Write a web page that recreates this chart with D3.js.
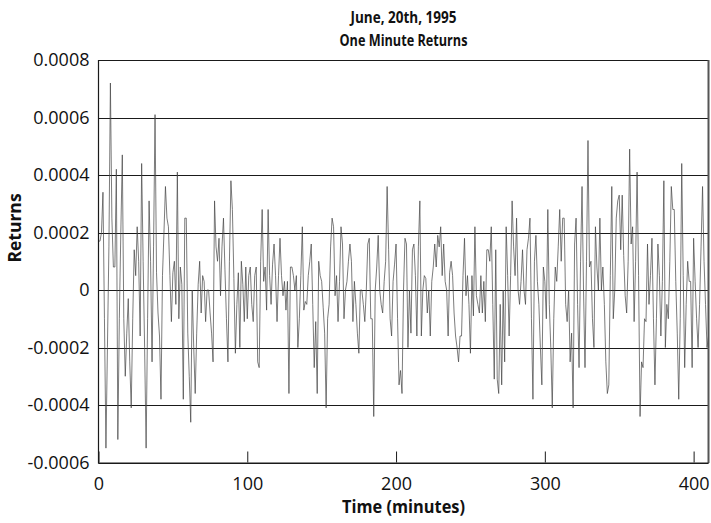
<!DOCTYPE html>
<html>
<head>
<meta charset="utf-8">
<script src="https://cdn.jsdelivr.net/npm/d3@7"></script>
<style>
  html, body { margin: 0; padding: 0; background: #fff; }
  svg { display: block; }
  text { font-family: "Open Sans", "Noto Sans", sans-serif; fill: #111; }
</style>
</head>
<body>
<svg id="chart" width="711" height="523"></svg>
<script>
// ---- data (one-minute returns, in basis points: 1 bp = 0.0001) ----
const titleLines = ["June, 20th, 1995", "One Minute Returns"];
const xLabel = "Time (minutes)";
const yLabel = "Returns";
const xTicks = [0, 100, 200, 300, 400];
const yTicks = [-0.0006, -0.0004, -0.0002, 0, 0.0002, 0.0004, 0.0006, 0.0008];
const returnsBp = [
  1.7,1.7,2.0,3.4,-1.0,-5.5,-2.0,1.5,7.2,
  2.5,0.8,0.8,4.2,-5.2,-1.0,2.0,4.7,-1.0,-3.0,
  -1.5,-0.3,-2.5,-4.1,-1.0,1.4,0.5,2.2,1.0,-1.6,
  4.4,1.0,-2.0,-5.5,-1.0,3.1,1.0,-2.5,1.5,6.1,
  0.6,-0.8,-1.6,-3.8,0.5,2.0,3.6,2.5,2.2,0.5,
  -1.1,0.6,1.0,-0.5,4.1,-1.0,0.8,0.2,-3.8,2.5,2.5,
  -1.5,-3.0,-4.6,0.0,-2.0,-3.6,-1.5,0.2,1.0,-0.8,
  0.5,0.3,-1.1,0.0,0.0,-0.8,-1.5,-2.5,3.1,1.5,
  1.0,1.8,-0.2,1.5,2.5,0.7,-1.0,-2.5,1.0,3.8,
  2.8,0.4,-2.2,-0.5,0.6,-2.0,1.0,0.2,-1.1,0.8,
  -1.0,0.5,0.8,-0.5,-1.1,0.5,0.8,-2.5,-2.7,1.0,
  2.8,0.3,0.8,-0.7,2.8,0.5,-0.5,0.9,1.6,0.5,
  -1.1,0.5,1.8,0.5,-0.2,0.3,-0.7,0.3,-3.6,0.8,
  0.8,0.5,0.0,0.5,-2.0,-1.0,0.5,2.2,-0.7,-0.4,
  -0.5,0.5,1.0,1.6,-0.5,-2.7,-1.1,-3.6,1.0,0.5,
  0.3,-0.6,-1.5,-4.1,-1.0,-0.5,1.5,2.5,2.2,-0.2,0.5,
  -1.1,0.3,2.2,1.6,-1.0,0.0,0.3,1.0,1.6,1.0,
  -1.1,0.3,-0.5,-1.5,-2.2,0.0,0.0,-0.5,-1.1,0.0,
  1.6,1.8,-1.0,-1.0,-4.4,0.0,0.8,1.9,0.0,-0.5,
  -0.8,0.3,1.0,3.6,1.4,-1.0,-1.6,0.3,0.9,1.6,
  -1.0,-3.3,-2.8,-3.6,0.0,1.8,1.6,-2.0,0.0,-1.5,
  1.4,1.6,0.5,-1.6,1.5,3.1,-1.6,0.0,0.5,0.4,
  -0.8,0.0,-1.6,0.3,0.8,1.6,0.8,1.9,1.5,2.2,
  0.5,1.6,0.3,0.0,-1.6,0.6,1.0,0.5,-0.8,-1.6,
  -2.0,-2.5,-1.6,-1.6,0.5,1.8,-0.2,0.5,-0.5,-2.2,
  0.5,-0.9,2.2,-0.2,-0.5,-0.8,0.5,-0.8,0.3,-1.1,1.4,
  1.4,1.0,2.2,-0.5,-3.1,1.4,-3.1,-3.6,-0.5,-3.3,
  0.0,-2.5,2.2,0.5,-1.6,0.5,3.1,1.5,0.5,2.5,
  0.0,-0.5,0.3,1.4,0.0,-0.5,1.4,1.8,2.5,-1.0,
  -3.8,1.0,1.9,0.3,-0.5,-2.0,-3.3,0.8,0.3,-1.0,
  2.8,-0.5,-2.0,-4.1,-1.0,0.8,0.3,1.5,2.8,1.0,
  2.5,2.5,-0.5,-1.1,0.0,-2.5,-1.5,-4.1,1.6,2.5,
  -0.5,-2.7,1.0,3.6,0.0,-2.7,1.0,5.2,0.8,1.0,
  -1.0,-2.0,2.2,0.8,0.0,2.5,0.0,0.8,-0.5,-2.5,
  -3.6,-3.3,0.5,3.6,-1.0,0.0,2.5,3.1,3.3,1.4,
  3.3,1.2,-0.2,-0.8,1.0,4.9,1.6,2.2,-1.1,1.0,4.1,
  0.5,-4.4,-2.5,-2.7,-1.0,-1.1,1.6,-0.5,0.5,1.8,
  -1.0,-3.3,-1.0,1.6,0.5,-1.6,0.3,3.8,-2.0,-0.5,
  -1.0,1.0,3.6,2.8,2.8,0.3,-1.5,-3.8,-1.0,4.4,
  0.5,-2.7,-0.5,1.0,0.3,0.3,-2.7,1.8,0.3,-1.0,
  -2.0,-0.5,1.5,3.6,1.0,-0.5,-2.0,-1.6
];
const BP = 0.0001; // unit conversion: basis point -> decimal return
const series = returnsBp.map((v, i) => ({ minute: i, ret: v * BP }));

// ---- layout ----
const svg = d3.select("#chart");
const plotL = 98.5, plotR = 708.5, plotT = 60, plotB = 462.5;

const x = d3.scaleLinear().domain([0, 410]).range([plotL, plotR]);
const y = d3.scaleLinear().domain([-0.0006, 0.0008]).range([plotB, plotT]);

// gridlines
svg.append("g").selectAll("line").data(yTicks).join("line")
  .attr("x1", plotL).attr("x2", plotR)
  .attr("y1", d => Math.round(y(d)) + 0.5).attr("y2", d => Math.round(y(d)) + 0.5)
  .attr("stroke", "#1a1a1a").attr("stroke-width", 1);

// data line
const line = d3.line().x(d => x(d.minute)).y(d => y(d.ret));
svg.append("path").datum(series)
  .attr("d", line)
  .attr("fill", "none")
  .attr("stroke", "#444")
  .attr("stroke-width", 0.7);

// plot frame
svg.append("line").attr("x1", plotR).attr("x2", plotR).attr("y1", plotT).attr("y2", plotB + 0.5)
  .attr("stroke", "#555").attr("stroke-width", 2);
svg.append("line").attr("x1", plotL).attr("x2", plotL).attr("y1", plotT).attr("y2", plotB + 1)
  .attr("stroke", "#1a1a1a").attr("stroke-width", 1.2);

// y axis
const yAxis = d3.axisLeft(y).tickValues(yTicks).tickSize(0).tickPadding(9)
  .tickFormat(d => d === 0 ? "0" : d3.format(".4f")(d).replace("−", "-"));
const gy = svg.append("g").attr("transform", `translate(${plotL},0)`).call(yAxis);
gy.select(".domain").remove();
gy.selectAll("text").attr("font-size", 18).attr("font-family", "Open Sans, Noto Sans, sans-serif").attr("fill", "#111");

// x axis (ticks point inward)
const xAxis = d3.axisBottom(x).tickValues(xTicks).tickSizeInner(-11).tickSizeOuter(0).tickPadding(15)
  .tickFormat(d3.format("d"));
const gx = svg.append("g").attr("transform", `translate(0,${plotB})`).call(xAxis);
gx.select(".domain").attr("stroke", "#1a1a1a").attr("stroke-width", 1.2)
  .attr("d", `M${plotL},0.5H${plotR}`);
gx.selectAll(".tick line").attr("stroke", "#1a1a1a");
gx.selectAll("text").attr("font-size", 18).attr("font-family", "Open Sans, Noto Sans, sans-serif").attr("fill", "#111");

// titles
const cx = (plotL + plotR) / 2;
svg.append("text").attr("x", cx).attr("y", 23).attr("text-anchor", "middle")
  .attr("font-size", 16.5).attr("font-weight", "bold")
  .attr("textLength", 106).attr("lengthAdjust", "spacingAndGlyphs").text(titleLines[0]);
svg.append("text").attr("x", cx).attr("y", 46).attr("text-anchor", "middle")
  .attr("font-size", 16.5).attr("font-weight", "bold")
  .attr("textLength", 128).attr("lengthAdjust", "spacingAndGlyphs").text(titleLines[1]);
svg.append("text").attr("x", cx).attr("y", 513).attr("text-anchor", "middle")
  .attr("font-size", 17.5).attr("font-weight", "bold")
  .attr("textLength", 123).attr("lengthAdjust", "spacingAndGlyphs").text(xLabel);
svg.append("text").attr("transform", `translate(21,228) rotate(-90)`).attr("text-anchor", "middle")
  .attr("font-size", 17.5).attr("font-weight", "bold").text(yLabel);
</script>
</body>
</html>
